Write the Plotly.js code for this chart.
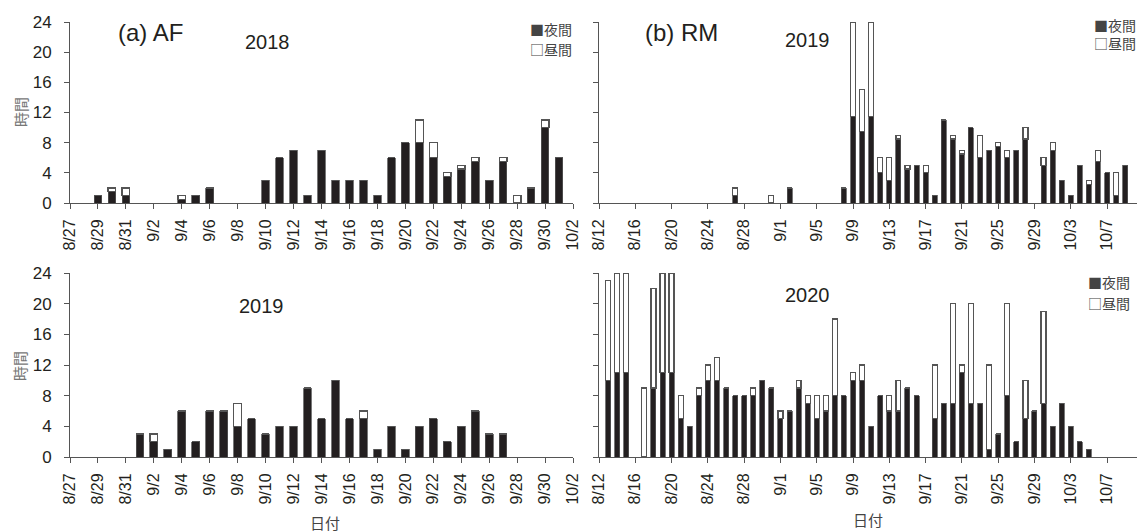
<!DOCTYPE html>
<html>
<head>
<meta charset="utf-8">
<script src="https://cdn.plot.ly/plotly-3.0.1.min.js"></script>
<style>html,body{margin:0;padding:0;background:#fff;}#chart{width:1137px;height:532px;}</style>
</head>
<body>
<div id="chart"></div>
<script>
// (a) AF 2018
const af2018Dates = ['2018-08-29','2018-08-30','2018-08-31','2018-09-04','2018-09-05','2018-09-06','2018-09-10','2018-09-11','2018-09-12','2018-09-13','2018-09-14','2018-09-15','2018-09-16','2018-09-17','2018-09-18','2018-09-19','2018-09-20','2018-09-21','2018-09-22','2018-09-23','2018-09-24','2018-09-25','2018-09-26','2018-09-27','2018-09-28','2018-09-29','2018-09-30','2018-10-01'];
const af2018Night = [1,1.5,1,0.5,1,2,3,6,7,1,7,3,3,3,1,6,8,8,6,3.5,4.5,5.5,3,5.5,0,2,10,6];
const af2018Day   = [0,0.5,1,0.5,0,0,0,0,0,0,0,0,0,0,0,0,0,3,2,0.5,0.5,0.5,0,0.5,1,0,1,0];

// (a) AF 2019
const af2019Dates = ['2019-09-01','2019-09-02','2019-09-03','2019-09-04','2019-09-05','2019-09-06','2019-09-07','2019-09-08','2019-09-09','2019-09-10','2019-09-11','2019-09-12','2019-09-13','2019-09-14','2019-09-15','2019-09-16','2019-09-17','2019-09-18','2019-09-19','2019-09-20','2019-09-21','2019-09-22','2019-09-23','2019-09-24','2019-09-25','2019-09-26','2019-09-27'];
const af2019Night = [3,2,1,6,2,6,6,4,5,3,4,4,9,5,10,5,5,1,4,1,4,5,2,4,6,3,3];
const af2019Day   = [0,1,0,0,0,0,0,3,0,0,0,0,0,0,0,0,1,0,0,0,0,0,0,0,0,0,0];

// (b) RM 2019
const rm2019Dates = ['2019-08-27','2019-08-31','2019-09-02','2019-09-08','2019-09-09','2019-09-10','2019-09-11','2019-09-12','2019-09-13','2019-09-14','2019-09-15','2019-09-16','2019-09-17','2019-09-18','2019-09-19','2019-09-20','2019-09-21','2019-09-22','2019-09-23','2019-09-24','2019-09-25','2019-09-26','2019-09-27','2019-09-28','2019-09-30','2019-10-01','2019-10-02','2019-10-03','2019-10-04','2019-10-05','2019-10-06','2019-10-07','2019-10-08','2019-10-09'];
const rm2019Night = [1,0,2,2,11.5,9.5,11.5,4,3,8.5,4.5,5,4,1,11,8.5,6.5,10,6,7,7.5,6,7,8.5,5,7,3,1,5,2.5,5.5,4,1,5];
const rm2019Day   = [1,1,0,0,12.5,5.5,12.5,2,3,0.5,0.5,0,1,0,0,0.5,0.5,0,3,0,0.5,1,0,1.5,1,1,0,0,0,0.5,1.5,0,3,0];

// (b) RM 2020
const rm2020Dates = ['2020-08-13','2020-08-14','2020-08-15','2020-08-17','2020-08-18','2020-08-19','2020-08-20','2020-08-21','2020-08-22','2020-08-23','2020-08-24','2020-08-25','2020-08-26','2020-08-27','2020-08-28','2020-08-29','2020-08-30','2020-08-31','2020-09-01','2020-09-02','2020-09-03','2020-09-04','2020-09-05','2020-09-06','2020-09-07','2020-09-08','2020-09-09','2020-09-10','2020-09-11','2020-09-12','2020-09-13','2020-09-14','2020-09-15','2020-09-16','2020-09-18','2020-09-19','2020-09-20','2020-09-21','2020-09-22','2020-09-23','2020-09-24','2020-09-25','2020-09-26','2020-09-27','2020-09-28','2020-09-29','2020-09-30','2020-10-01','2020-10-02','2020-10-03','2020-10-04','2020-10-05'];
const rm2020Night = [10,11,11,0,9,11,11,5,4,8,10,10,9,8,8,8,10,9,5,6,9,7,5,6,8,8,10,10,4,8,6,6,9,8,5,7,7,11,7,7,1,3,8,2,5,6,7,4,7,4,2,1];
const rm2020Day   = [13,13,13,9,13,13,13,3,0,1,2,3,0,0,0,1,0,0,1,0,1,1,3,2,10,0,1,2,0,0,2,4,0,0,7,0,13,1,13,0,11,0,12,0,5,0,12,0,0,0,0,0];

const seriesNames = ['夜間','昼間'];
const panelLabels = ['(a) AF','(b) RM'];
const yearLabels = ['2018','2019','2019','2020'];

const DAY = 86400000;
const BW = 0.55*DAY;
const FONT = '"Liberation Sans", Arial, sans-serif';
const CJK = '"Noto Sans CJK JP", "Noto Sans", sans-serif';
const TXT = '#231f20';

function pair(dates, night, day, xa, ya) {
  return [
    {type:'bar', x:dates, y:night, name:seriesNames[0], xaxis:xa, yaxis:ya, width:BW,
     marker:{color:'#231f20', line:{color:'#555', width:0.8}}, showlegend:false},
    {type:'bar', x:dates, y:day, name:seriesNames[1], xaxis:xa, yaxis:ya, width:BW,
     marker:{color:'#ffffff', line:{color:'#555', width:1.2}}, showlegend:false}
  ];
}

const W = 1137, H = 532;
const px = v => v / W;
const py = v => 1 - v / H;

const data = [].concat(
  pair(af2018Dates, af2018Night, af2018Day, 'x', 'y'),
  pair(rm2019Dates, rm2019Night, rm2019Day, 'x2', 'y2'),
  pair(af2019Dates, af2019Night, af2019Day, 'x3', 'y3'),
  pair(rm2020Dates, rm2020Night, rm2020Day, 'x4', 'y4')
);

function xax(domain, r, tick0, dtick, anchor) {
  return {domain:domain, type:'date', range:r, tick0:tick0, dtick:dtick*DAY, tickformat:'%-m/%-d',
    tickangle:-90, ticks:'outside', ticklen:5, tickcolor:'#555', showline:true, linecolor:'#555', linewidth:1,
    showgrid:false, zeroline:false, anchor:anchor, ticklabelstandoff:4,
    tickfont:{family:FONT, size:16, color:TXT}};
}
function yax(domain, anchor, labels) {
  return {domain:domain, range:[0,24], dtick:4, tick0:0, ticks:'outside', ticklen:5, tickcolor:'#555',
    showline:true, linecolor:'#555', linewidth:1, showgrid:false, zeroline:false, anchor:anchor,
    showticklabels:labels, ticklabelstandoff:9, tickfont:{family:FONT, size:17, color:TXT}};
}

const leftD = [px(70), px(573)];
const rightD = [px(599), 1];
const topD = [py(203), py(22)];
const botD = [py(457), py(273)];
const rightEnd = new Date(Date.UTC(2019,7,12) + 59.3*DAY);
const rightEnd2 = new Date(Date.UTC(2020,7,12) + 59.3*DAY);

function ann(x, y, text, size, color, extra) {
  return Object.assign({xref:'paper', yref:'paper', x:px(x), y:py(y), text:text, showarrow:false,
    xanchor:'center', yanchor:'middle', font:{family:FONT, size:size, color:color||TXT}}, extra||{});
}
function legAnn(x, y, text) {
  return {xref:'paper', yref:'paper', x:px(x), y:py(y), text:text, showarrow:false,
    xanchor:'left', yanchor:'middle', font:{family:CJK, size:14, color:'#444'}};
}

const annotations = [
  ann(150, 33, panelLabels[0], 24),
  ann(681, 33, panelLabels[1], 24),
  ann(267, 42, yearLabels[0], 20),
  ann(807, 40, yearLabels[1], 20),
  ann(261, 306, yearLabels[2], 20),
  ann(807, 295, yearLabels[3], 20),
  legAnn(528, 29, '■' + seriesNames[0]),
  legAnn(528, 49, '□' + seriesNames[1]),
  legAnn(1092, 25, '■' + seriesNames[0]),
  legAnn(1092, 43, '□' + seriesNames[1]),
  legAnn(1086, 282, '■' + seriesNames[0]),
  legAnn(1086, 303, '□' + seriesNames[1]),
  {xref:'paper', yref:'paper', x:px(20), y:py(112), text:'時間', showarrow:false, textangle:-90,
   xanchor:'center', yanchor:'middle', font:{family:CJK, size:15, color:'#777'}},
  {xref:'paper', yref:'paper', x:px(19), y:py(366), text:'時間', showarrow:false, textangle:-90,
   xanchor:'center', yanchor:'middle', font:{family:CJK, size:15, color:'#777'}},
  {xref:'paper', yref:'paper', x:px(325), y:py(522), text:'日付', showarrow:false,
   xanchor:'center', yanchor:'middle', font:{family:CJK, size:15, color:'#444'}},
  {xref:'paper', yref:'paper', x:px(868), y:py(519), text:'日付', showarrow:false,
   xanchor:'center', yanchor:'middle', font:{family:CJK, size:15, color:'#444'}}
];

const layout = {
  width:W, height:H, margin:{l:0, r:0, t:0, b:0}, paper_bgcolor:'#fff', plot_bgcolor:'rgba(0,0,0,0)',
  barmode:'stack', showlegend:false,
  xaxis: xax(leftD, ['2018-08-27','2018-10-02'], '2018-08-27', 2, 'y'),
  yaxis: yax(topD, 'x', true),
  xaxis2: xax(rightD, ['2019-08-12', rightEnd.toISOString()], '2019-08-12', 4, 'y2'),
  yaxis2: yax(topD, 'x2', false),
  xaxis3: xax(leftD, ['2019-08-27','2019-10-02'], '2019-08-27', 2, 'y3'),
  yaxis3: yax(botD, 'x3', true),
  xaxis4: xax(rightD, ['2020-08-12', rightEnd2.toISOString()], '2020-08-12', 4, 'y4'),
  yaxis4: yax(botD, 'x4', false),
  annotations: annotations
};

Plotly.newPlot('chart', data, layout, {displayModeBar:false, staticPlot:true});
</script>
</body>
</html>
